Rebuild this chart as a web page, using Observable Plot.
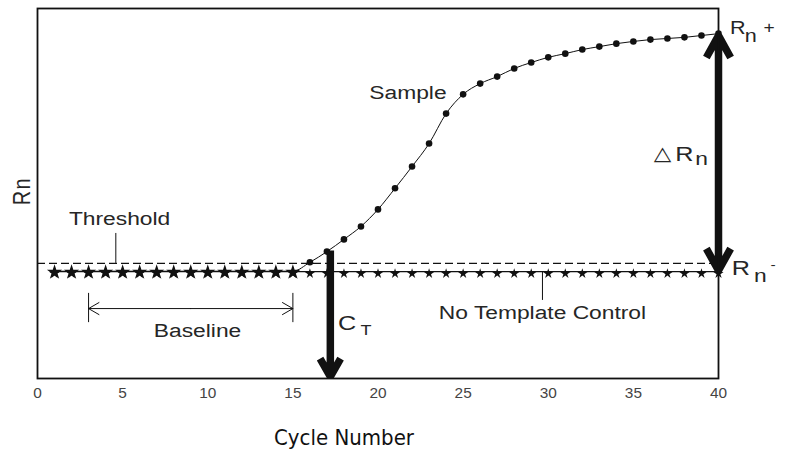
<!DOCTYPE html>
<html><head><meta charset="utf-8">
<script src="https://cdn.jsdelivr.net/npm/d3@7"></script>
<script src="https://cdn.jsdelivr.net/npm/@observablehq/plot@0.6"></script>
<style>
body{margin:0;background:#fff;}
#chart{position:relative;width:790px;height:460px;}
#caption{position:absolute;left:0;width:688px;top:425px;text-align:center;font-family:"DejaVu Sans Condensed","DejaVu Sans",sans-serif;font-size:22px;color:#111;line-height:1.15;}
</style></head><body>
<div id="chart"><div id="caption">Cycle Number</div></div>
<script>
// ---- data ----
const cycles = [1,2,3,4,5,6,7,8,9,10,11,12,13,14,15,16,17,18,19,20,21,22,23,24,25,26,27,28,29,30,31,32,33,34,35,36,37,38,39,40];
const sampleRn = [2.90,2.90,2.90,2.90,2.90,2.90,2.90,2.90,2.90,2.90,2.90,2.90,2.90,2.90,2.90,
  3.14,3.43,3.76,4.11,4.57,5.14,5.73,6.35,7.16,7.68,7.97,8.16,8.38,8.54,8.68,
  8.78,8.89,8.97,9.05,9.11,9.16,9.19,9.22,9.27,9.32];
const ntcRn = [2.89,2.89,2.89,2.89,2.89,2.89,2.89,2.89,2.89,2.89,2.89,2.89,2.89,2.89,2.89,2.89,2.89,2.89,2.89,2.89,
  2.89,2.89,2.89,2.89,2.89,2.89,2.89,2.89,2.89,2.89,2.89,2.89,2.89,2.89,2.89,2.89,2.89,2.89,2.89,2.89];
const xTicks = [0,5,10,15,20,25,30,35,40];
const thresholdRn = 3.11;
const baselineStart = 3, baselineEnd = 15;
const ctCycle = 17.2;
const ctRn = 3.46;
const rnPlus = 9.32, rnMinus = 2.865;

const sample = cycles.map((c,i)=>({cycle:c, rn:sampleRn[i]}));
const ntc = cycles.map((c,i)=>({cycle:c, rn:ntcRn[i]}));
const sampleFlat = sample.filter(d => d.cycle <= baselineEnd);   // overlaps the NTC trace
const sampleRise = sample.filter(d => d.cycle > baselineEnd);

const INK = "#111";
const TXT = "#262626";
const F = "Liberation Sans, Arial, Helvetica, sans-serif";
const lab = (arr, opts) => Plot.text(arr, {x:"x", y:"y", text:"t", fill:TXT, fontFamily:F, ...opts});

const plot = Plot.plot({
  width: 790, height: 460,
  marginLeft: 37, marginRight: 72, marginTop: 8, marginBottom: 82,
  x: {domain:[0,40]},
  y: {domain:[0,10], axis:null},
  style: {background:"#fff", color:INK, fontFamily:F},
  marks: [
    Plot.axisX({ticks:xTicks, tickSize:0, tickPadding:10, label:null, fontSize:14, fill:"#444", tickFormat:d=>String(d)}),
    Plot.ruleY([thresholdRn], {stroke:INK, strokeWidth:1.2, strokeDasharray:"8,4"}),
    Plot.line(ntc, {x:"cycle", y:"rn", stroke:INK, strokeWidth:1.3}),
    Plot.dot(ntc, {x:"cycle", y:"rn", symbol:"star", r:3.2, fill:INK, dy:2}),
    Plot.line(sample, {x:"cycle", y:"rn", stroke:INK, strokeWidth:1, curve:"monotone-x"}),
    Plot.dot(sampleFlat, {x:"cycle", y:"rn", symbol:"star", r:3.6, fill:INK, stroke:INK, strokeWidth:1.2, dy:1}),
    Plot.dot(sampleRise, {x:"cycle", y:"rn", r:3.3, fill:INK}),
    // leader lines
    Plot.ruleX([{x:4.6, y1:thresholdRn, y2:3.92}], {x:"x", y1:"y1", y2:"y2", stroke:INK, strokeWidth:1}),
    Plot.ruleX([{x:29.66, y1:rnMinus, y2:2.11}], {x:"x", y1:"y1", y2:"y2", stroke:INK, strokeWidth:1}),
    // baseline bracket
    Plot.ruleX([{x:baselineStart},{x:baselineEnd}], {x:"x", y1:1.51, y2:2.30, stroke:INK, strokeWidth:1}),
    Plot.arrow([{a:(baselineStart+baselineEnd)/2, b:baselineStart},{a:(baselineStart+baselineEnd)/2, b:baselineEnd}],
      {x1:"a", x2:"b", y1:1.89, y2:1.89, stroke:INK, strokeWidth:1, headLength:18, headAngle:60}),
    // CT arrow
    Plot.arrow([{x:ctCycle, y1:ctRn, y2:0}], {x1:"x", x2:"x", y1:"y1", y2:"y2", stroke:INK, strokeWidth:7.5,
      headLength:4.1, headAngle:60, strokeLinecap:"butt", insetEnd:2}),
    // Delta Rn double arrow
    Plot.arrow([{x:40, y1:(rnPlus+rnMinus)/2, y2:rnPlus},{x:40, y1:(rnPlus+rnMinus)/2, y2:rnMinus}],
      {x1:"x", x2:"x", y1:"y1", y2:"y2", stroke:INK, strokeWidth:7.5, headLength:5, headAngle:58, strokeLinecap:"butt", insetEnd:2}),
    Plot.frame({stroke:INK, strokeWidth:1.8}),
    // labels
    lab([{x:4.82, y:4.30, t:"Threshold"}], {fontSize:19}),
    lab([{x:21.76, y:7.72, t:"Sample"}], {fontSize:19}),
    lab([{x:9.40, y:1.28, t:"Baseline"}], {fontSize:19}),
    lab([{x:29.66, y:1.76, t:"No Template Control"}], {fontSize:19}),
    lab([{x:18.18, y:1.50, t:"C"}], {fontSize:21}),
    lab([{x:19.30, y:1.30, t:"T"}], {fontSize:15}),
    lab([{x:36.71, y:6.07, t:"△"}], {fontSize:19, fontFamily:"DejaVu Sans, sans-serif"}),
    lab([{x:38.0, y:6.07, t:"R"}], {fontSize:21}),
    lab([{x:39.0, y:5.93, t:"n"}], {fontSize:19}),
    lab([{x:41.14, y:9.46, t:"R"}], {fontSize:18}),
    lab([{x:41.9, y:9.26, t:"n"}], {fontSize:18}),
    lab([{x:42.97, y:9.48, t:"+"}], {fontSize:16}),
    lab([{x:41.32, y:2.99, t:"R"}], {fontSize:21}),
    lab([{x:42.45, y:2.78, t:"n"}], {fontSize:19}),
    lab([{x:43.2, y:3.07, t:"-"}], {fontSize:13}),
    lab([{x:-0.88, y:4.88, t:"R"}], {fontSize:20, rotate:-90}),
    lab([{x:-0.88, y:5.26, t:"n"}], {fontSize:20, rotate:-90})
  ]
});
// the reference drawing is horizontally stretched: widen glyphs to match
const sel = d3.select(plot);
sel.selectAll('g[aria-label="text"] text').each(function(){
  const t = this.getAttribute("transform") || "";
  if (t.includes("rotate")) { this.setAttribute("transform", t + " scale(1,1.15)"); return; }
  this.setAttribute("transform", t + " scale(1.2,1)");
});
sel.selectAll('g[aria-label="x-axis tick label"] text').each(function(){
  const t = this.getAttribute("transform") || "";
  this.setAttribute("transform", t + " scale(1.1,1)");
});
document.getElementById("chart").prepend(plot);
</script>
</body></html>
